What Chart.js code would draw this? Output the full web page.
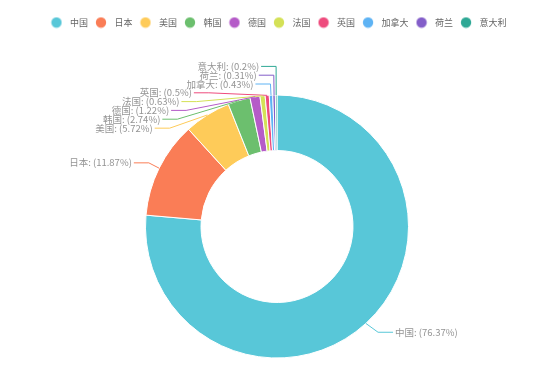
<!DOCTYPE html>
<html>
<head>
<meta charset="utf-8">
<script src="https://cdn.jsdelivr.net/npm/chart.js@4/dist/chart.umd.min.js"></script>
<style>
  html, body { margin: 0; padding: 0; background: #fff; }
  #wrap { width: 554px; height: 379px; position: relative; }
</style>
</head>
<body>
<div id="wrap"><canvas id="c" width="554" height="379"></canvas></div>
<script>
// ---- data ----
const countries = ['中国', '日本', '美国', '韩国', '德国', '法国', '英国', '加拿大', '荷兰', '意大利'];
const shares = [76.37, 11.87, 5.72, 2.74, 1.22, 0.63, 0.5, 0.43, 0.31, 0.2];
const colors = ['#58c7d8', '#fa7d56', '#fecb59', '#6cbf6e', '#b55bc8', '#d4e157', '#ee4b7d', '#5eb3f4', '#835ec9', '#2ea895'];

// ---- style constants ----
const FONT = '"Noto Sans CJK SC", "Noto Sans", sans-serif';
const LABEL_SIZE = 9.5;
const LEGEND_SIZE = 9;
const LEN = 12, LEN2 = 15, DIST = 2, LABEL_H = 8.8, SLACK = 3;

// legend dots (canvas point styles)
const dots = colors.map(c => {
  const cv = document.createElement('canvas');
  cv.width = 12; cv.height = 12;
  const g = cv.getContext('2d');
  g.fillStyle = c;
  g.beginPath(); g.arc(6, 6, 5.2, 0, Math.PI * 2); g.fill();
  return cv;
});

// ECharts-like outside labels with leader lines
const pieLabels = {
  id: 'pieLabels',
  afterDatasetsDraw(chart) {
    const ctx = chart.ctx;
    const meta = chart.getDatasetMeta(0);
    const left = [], right = [];
    let cx = 0, cy = 0, r = 0;
    meta.data.forEach((arc, i) => {
      const p = arc.getProps(['x', 'y', 'startAngle', 'endAngle', 'outerRadius'], true);
      cx = p.x; cy = p.y; r = p.outerRadius;
      const mid = (p.startAngle + p.endAngle) / 2;
      const dx = Math.cos(mid), dy = Math.sin(mid);
      const x1 = cx + r * dx, y1 = cy + r * dy;
      const x2 = cx + (r + LEN) * dx, y2 = cy + (r + LEN) * dy;
      const dir = dx < 0 ? -1 : 1;
      const x3 = x2 + dir * LEN2;
      const item = { i, x1, y1, x: x3 + dir * DIST, y: y2, dir, height: LABEL_H,
        text: countries[i] + ': (' + shares[i] + '%)' };
      (dir < 0 ? left : right).push(item);
    });
    const viewH = chart.height;
    function adjust(list, dir) {
      list.sort((a, b) => a.y - b.y);
      function shiftUp(end, delta) {
        for (let j = end; j >= 0; j--) {
          if (list[j].y - delta < 0) break;
          list[j].y -= delta;
          if (j > 0 && list[j].y > list[j - 1].y + list[j - 1].height) break;
        }
      }
      function shiftDown(start, end, delta) {
        for (let j = start; j < end; j++) {
          if (list[j].y + delta > viewH) break;
          list[j].y += delta;
          if (j > start && j + 1 < end && list[j + 1].y > list[j].y + list[j].height) {
            shiftUp(j, delta / 2);
            return;
          }
        }
        shiftUp(end - 1, delta / 2);
      }
      function changeX(lst, isDown) {
        let last = isDown ? Number.MAX_VALUE : 0;
        for (const it of lst) {
          const dY = Math.abs(it.y - cy);
          let dX = dY < r + LEN - SLACK
            ? Math.sqrt((r + LEN + LEN2) * (r + LEN + LEN2) - dY * dY)
            : Math.abs(it.x - cx);
          if (isDown && dX >= last) dX = last - 10;
          if (!isDown && dX <= last) dX = last + 10;
          it.x = cx + dX * dir;
          last = dX;
        }
      }
      let lastY = 0;
      for (let i = 0; i < list.length; i++) {
        const delta = list[i].y - lastY;
        if (delta < 0) shiftDown(i, list.length, -delta);
        lastY = list[i].y + list[i].height;
      }
      if (viewH - lastY < 0) shiftUp(list.length - 1, lastY - viewH);
      const up = [], down = [];
      list.forEach(it => (it.y >= cy ? down : up).push(it));
      changeX(up, false);
      changeX(down, true);
    }
    adjust(left, -1);
    adjust(right, 1);
    ctx.save();
    ctx.font = LABEL_SIZE + 'px ' + FONT;
    ctx.textBaseline = 'middle';
    [...left, ...right].forEach(it => {
      const x3 = it.x - it.dir * DIST;
      const x2 = x3 - it.dir * LEN2;
      ctx.strokeStyle = colors[it.i];
      ctx.lineWidth = 1;
      ctx.beginPath();
      ctx.moveTo(it.x1, it.y1);
      ctx.lineTo(x2, it.y);
      ctx.lineTo(x3, it.y);
      ctx.stroke();
      ctx.fillStyle = '#949494';
      ctx.textAlign = it.dir < 0 ? 'right' : 'left';
      ctx.fillText(it.text, it.x, it.y);
    });
    ctx.restore();
  }
};

new Chart(document.getElementById('c'), {
  type: 'doughnut',
  data: {
    labels: countries,
    datasets: [{
      data: shares,
      backgroundColor: colors,
      borderColor: '#ffffff',
      borderWidth: 1,
      radius: 131.5,
      cutout: '57.8%'
    }]
  },
  options: {
    responsive: false,
    animation: false,
    events: [],
    layout: { padding: { top: 14, bottom: 0, left: 0, right: 0 } },
    plugins: {
      tooltip: { enabled: false },
      legend: {
        position: 'top',
        labels: {
          usePointStyle: true,
          pointStyleWidth: 18,
          padding: 4,
          color: '#666',
          font: { family: FONT, size: LEGEND_SIZE },
          generateLabels(chart) {
            const items = Chart.overrides.doughnut.plugins.legend.labels.generateLabels(chart);
            items.forEach((it, i) => { it.pointStyle = dots[i]; it.lineWidth = 0; it.fontColor = '#666'; });
            return items;
          }
        }
      },
      subtitle: {
        display: true,
        text: '',
        position: 'top',
        weight: 0,
        font: { size: 10, lineHeight: 1.2 },
        padding: { top: 25, bottom: 0 }
      }
    }
  },
  plugins: [pieLabels]
});
</script>
</body>
</html>
